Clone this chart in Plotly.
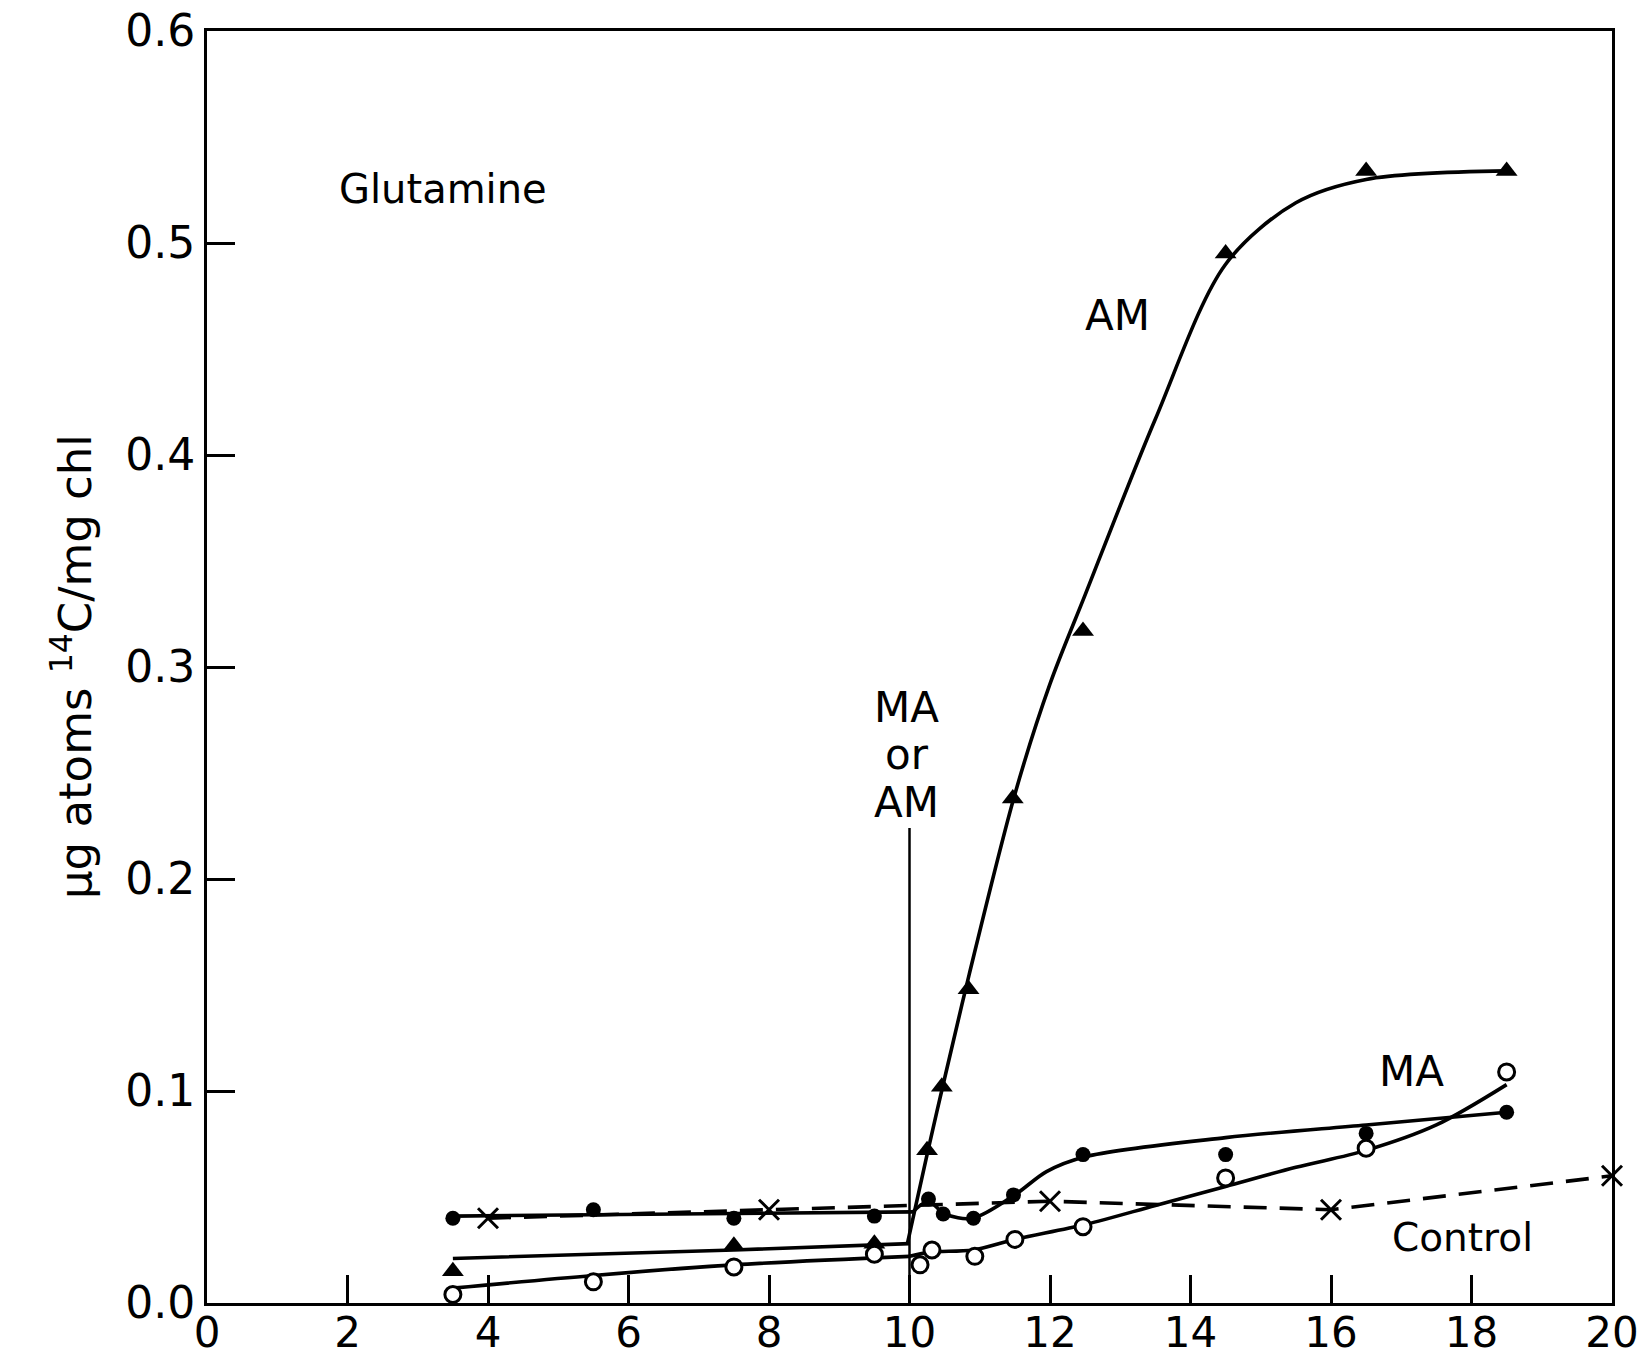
import plotly.graph_objects as go

# ---- data ----
# Control (x, dashed)
ctrl_x = [4.0, 8.0, 12.0, 16.0, 20.0]
ctrl_y = [0.040, 0.044, 0.048, 0.044, 0.060]

# AM treatment (filled triangles)
am_x = [3.5, 7.5, 9.5, 10.25, 10.46, 10.84, 11.47, 12.47, 14.5, 16.5, 18.5]
am_y = [0.015, 0.027, 0.028, 0.072, 0.102, 0.148, 0.238, 0.317, 0.495, 0.534, 0.534]

# MA treatment, filled circles
maf_x = [3.5, 5.5, 7.5, 9.5, 10.27, 10.48, 10.91, 11.48, 12.47, 14.5, 16.5, 18.5]
maf_y = [0.040, 0.044, 0.040, 0.041, 0.049, 0.042, 0.040, 0.051, 0.070, 0.070, 0.080, 0.090]

# MA treatment, open circles
mao_x = [3.5, 5.5, 7.5, 9.5, 10.15, 10.32, 10.93, 11.5, 12.47, 14.5, 16.5, 18.5]
mao_y = [0.004, 0.010, 0.017, 0.023, 0.018, 0.025, 0.022, 0.030, 0.036, 0.059, 0.073, 0.109]

# hand-drawn fitted curves (knots)
am_fit1_x = [3.5, 7.5, 10.0]
am_fit1_y = [0.021, 0.025, 0.028]
am_fit2_x = [9.97, 10.25, 10.5, 10.85, 11.5, 12.0, 12.5, 13.5, 14.5, 15.5, 16.5, 18.5]
am_fit2_y = [0.028, 0.070, 0.106, 0.155, 0.240, 0.292, 0.334, 0.417, 0.490, 0.519, 0.530, 0.534]

maf_fit1_x = [3.5, 7.0, 10.05]
maf_fit1_y = [0.041, 0.042, 0.043]
maf_fit2_x = [10.05, 10.27, 10.5, 10.9, 11.5, 11.95, 12.5, 14.5, 16.5, 18.5]
maf_fit2_y = [0.043, 0.048, 0.042, 0.040, 0.051, 0.062, 0.069, 0.078, 0.084, 0.090]

mao_fit1_x = [3.5, 5.5, 7.5, 10.0]
mao_fit1_y = [0.007, 0.013, 0.018, 0.022]
mao_fit2_x = [10.0, 10.3, 10.9, 11.5, 12.5, 13.5, 14.5, 15.5, 16.5, 17.5, 18.5]
mao_fit2_y = [0.022, 0.024, 0.025, 0.030, 0.037, 0.046, 0.055, 0.064, 0.072, 0.084, 0.103]

# addition marker (MA or AM added at 10 min)
add_x = [10.0, 10.0]
add_y = [0.0, 0.224]

x_ticks = [0, 2, 4, 6, 8, 10, 12, 14, 16, 18, 20]
y_ticks = [0.0, 0.1, 0.2, 0.3, 0.4, 0.5, 0.6]

FONT = "DejaVu Sans"
LW = 3.6

fig = go.Figure()

def curve(x, y, shape="spline", dash="solid", width=LW):
    fig.add_trace(go.Scatter(x=x, y=y, mode="lines",
                             line=dict(color="black", width=width, shape=shape, dash=dash, smoothing=0.9),
                             hoverinfo="skip", showlegend=False, cliponaxis=False))

curve(am_fit1_x, am_fit1_y, shape="linear")
curve(am_fit2_x, am_fit2_y)
curve(maf_fit1_x, maf_fit1_y, shape="linear")
curve(maf_fit2_x, maf_fit2_y)
curve(mao_fit1_x, mao_fit1_y)
curve(mao_fit2_x, mao_fit2_y)
curve(ctrl_x, ctrl_y, shape="linear", dash="23px,13px")
curve(add_x, add_y, shape="linear", width=2.5)

fig.add_trace(go.Scatter(x=ctrl_x, y=ctrl_y, mode="markers", cliponaxis=False,
                         marker=dict(symbol="x-thin-open", size=20, color="black",
                                     line=dict(color="black", width=3)),
                         showlegend=False))
fig.add_trace(go.Scatter(x=am_x, y=am_y, mode="markers", cliponaxis=False,
                         marker=dict(symbol="triangle-up", size=19, color="black"),
                         showlegend=False))
fig.add_trace(go.Scatter(x=mao_x, y=mao_y, mode="markers", cliponaxis=False,
                         marker=dict(symbol="circle", size=16, color="white",
                                     line=dict(color="black", width=3)),
                         showlegend=False))
fig.add_trace(go.Scatter(x=maf_x, y=maf_y, mode="markers", cliponaxis=False,
                         marker=dict(symbol="circle", size=15, color="black"),
                         showlegend=False))

def label(text, x, y, size=42):
    fig.add_annotation(x=x, y=y, text=text, showarrow=False, xanchor="center", yanchor="middle",
                       font=dict(family=FONT, size=size, color="black"))

label("Glutamine", 3.36, 0.5255, 40)
label("AM", 12.96, 0.466)
label("MA", 9.96, 0.2808)
label("or", 9.96, 0.2585)
label("AM", 9.96, 0.2363)
label("MA", 17.14, 0.109)
label("Control", 17.87, 0.031, 39)

fig.add_annotation(xref="paper", yref="paper", x=-0.096, y=0.5, textangle=-90,
                   text="μg atoms <sup>14</sup>C/mg chl", showarrow=False,
                   xanchor="center", yanchor="middle",
                   font=dict(family=FONT, size=45, color="black"))

axis_common = dict(showline=True, linecolor="black", linewidth=3, mirror=True,
                   ticks="inside", ticklen=28, tickwidth=3, tickcolor="black",
                   showgrid=False, zeroline=False, automargin=False)

fig.update_xaxes(range=[0, 20], tickvals=x_ticks, ticktext=[str(v) for v in x_ticks],
                 tickfont=dict(family=FONT, size=42, color="black"), ticklabelstandoff=-9,
                 **axis_common)
fig.update_yaxes(range=[0, 0.6], tickvals=y_ticks, ticktext=[f"{v:.1f}" for v in y_ticks],
                 tickfont=dict(family=FONT, size=44, color="black"), **axis_common)

fig.update_layout(width=1644, height=1357, margin=dict(l=207, r=32, t=31, b=54),
                  plot_bgcolor="white", paper_bgcolor="white", showlegend=False)

fig.write_html("out.html")
